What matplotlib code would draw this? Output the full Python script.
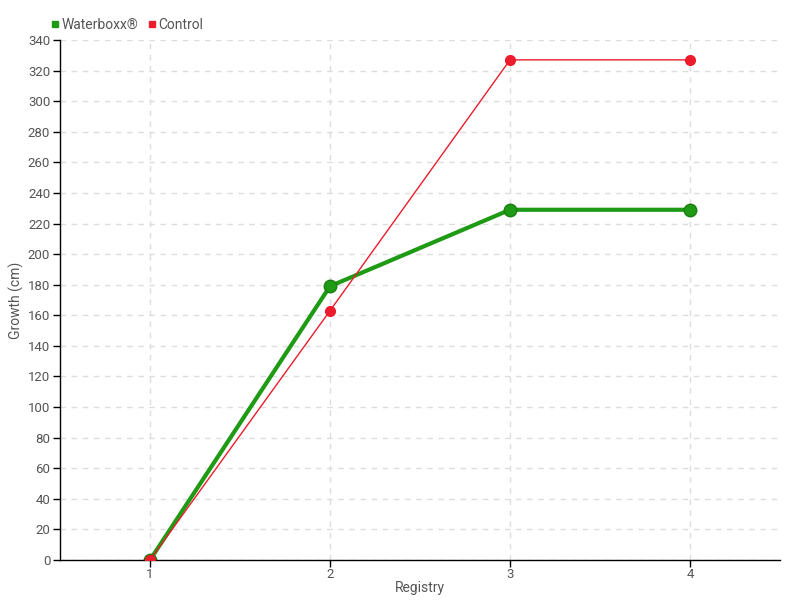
import matplotlib
matplotlib.use('Agg')
import matplotlib.pyplot as plt
from matplotlib.lines import Line2D

# ---- 数据 ----
registry = [1, 2, 3, 4]
waterboxx = [0, 179, 229, 229]
control = [0, 163, 327, 327]
y_ticks = list(range(0, 341, 20))

plt.rcParams['font.family'] = ['Roboto', 'DejaVu Sans']
text_col = '#555555'
green = '#1f9a14'
red = '#ec1c2c'

fig = plt.figure(figsize=(8, 6), dpi=100)
ax = fig.add_axes([60/800, 40/600, 720/800, 520/600])

ax.plot(registry, control, color=red, lw=1, marker='o', ms=7, zorder=3,
        markeredgecolor=red)
ax.plot(registry, waterboxx, color=green, lw=3, marker='o', ms=9, zorder=2,
        markeredgecolor='#1a7f12')
# 控制组起点画在上面
ax.plot(registry[:1], control[:1], 'o', color=red, ms=7, zorder=4)

ax.set_xlim(0.5, 4.5)
ax.set_ylim(0, 340)
ax.set_xticks(registry)
ax.set_yticks(y_ticks)
ax.grid(True, color='#dddddd', linestyle=(0, (4, 4)), lw=1)
ax.set_axisbelow(True)
for s in ['top', 'right']:
    ax.spines[s].set_visible(False)
for s in ['left', 'bottom']:
    ax.spines[s].set_color('black')
    ax.spines[s].set_linewidth(1)
ax.tick_params(colors=text_col, labelsize=9.5, length=5, width=1, color='black')
ax.tick_params(axis='x', pad=1)
ax.tick_params(axis='y', pad=2)
ax.set_xlabel('Registry', color=text_col, fontsize=10)
ax.set_ylabel('Growth (cm)', color=text_col, fontsize=10)
ax.xaxis.set_label_coords(0.5, -0.040)
ax.yaxis.set_label_coords(-0.05, 0.5)

handles = [Line2D([], [], ls='none', marker='s', ms=5, color=green),
           Line2D([], [], ls='none', marker='s', ms=5, color=red)]
fig.legend(handles, ['Waterboxx®', 'Control'], loc='upper left',
           bbox_to_anchor=(44/800, 1 - 12/600), ncol=2, frameon=False,
           fontsize=10, labelcolor=text_col, handletextpad=0.05,
           columnspacing=0.6, handlelength=0.8, borderaxespad=0)

fig.savefig('out.png', dpi=100)
